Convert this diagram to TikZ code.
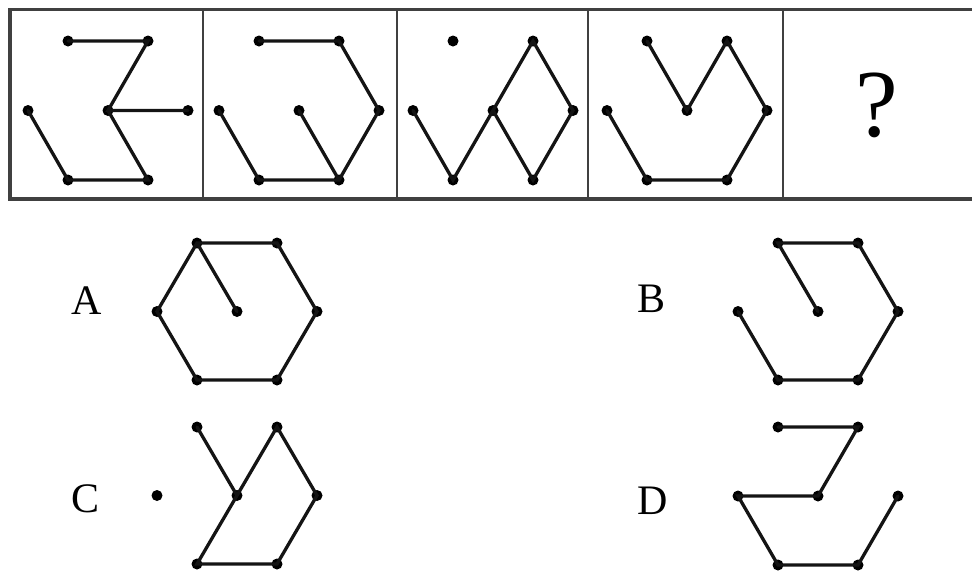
\documentclass[tikz,border=0pt]{standalone}
\usepackage{fontspec}
\setmainfont{Liberation Serif}
\begin{document}
\begin{tikzpicture}[x=1pt,y=-1pt,
  dot/.style={circle,fill=black,inner sep=0pt,minimum size=11pt},
  seg/.style={line width=3.3pt,black!92,line cap=round},
  frame/.style={line width=3.6pt,black!75},
  divider/.style={line width=2.8pt,black!75},
  lab/.style={inner sep=0pt,font=\fontsize{42}{42}\selectfont}]
\useasboundingbox (0,0) rectangle (972,571);
\newcommand\hexpts[4]{%
  \node[dot] (#1tl) at (#2-40,#3-#4) {};
  \node[dot] (#1tr) at (#2+40,#3-#4) {};
  \node[dot] (#1l)  at (#2-80,#3) {};
  \node[dot] (#1c)  at (#2,#3) {};
  \node[dot] (#1r)  at (#2+80,#3) {};
  \node[dot] (#1bl) at (#2-40,#3+#4) {};
  \node[dot] (#1br) at (#2+40,#3+#4) {};}
% frame
\draw[frame] (975,9.5) -- (10,9.5) -- (10,199) -- (975,199);
\foreach \xx in {203,397,588,783} \draw[divider] (\xx,9.5) -- (\xx,199);
% panel 1
\hexpts{a}{108}{110.5}{69.5}
\draw[seg] (atl.center) -- (atr.center) -- (ac.center) -- (ar.center);
\draw[seg] (ac.center) -- (abr.center) -- (abl.center) -- (al.center);
% panel 2
\hexpts{b}{299}{110.5}{69.5}
\draw[seg] (btl.center) -- (btr.center) -- (br.center) -- (bbr.center) -- (bbl.center) -- (bl.center);
\draw[seg] (bc.center) -- (bbr.center);
% panel 3
\node[dot] (ctl) at (453,41) {};
\node[dot] (ctr) at (533,41) {};
\node[dot] (cl)  at (413,110.5) {};
\node[dot] (cc)  at (493,110.5) {};
\node[dot] (cr)  at (573,110.5) {};
\node[dot] (cbl) at (453,180) {};
\node[dot] (cbr) at (533,180) {};
\draw[seg] (cl.center) -- (cbl.center) -- (cc.center) -- (ctr.center) -- (cr.center) -- (cbr.center) -- (cc.center);
% panel 4
\hexpts{d}{687}{110.5}{69.5}
\draw[seg] (dtl.center) -- (dc.center) -- (dtr.center) -- (dr.center) -- (dbr.center) -- (dbl.center) -- (dl.center);
% question mark
\node[inner sep=0pt,font=\fontsize{96}{96}\selectfont] (q) at (877,105) {?};
% option A
\node[lab] (la) at (87,301) {A};
\hexpts{oa}{237}{311.5}{68.5}
\draw[seg] (oatl.center) -- (oatr.center) -- (oar.center) -- (oabr.center) -- (oabl.center) -- (oal.center) -- cycle;
\draw[seg] (oatl.center) -- (oac.center);
% option B
\node[lab] (lb) at (651,299) {B};
\hexpts{ob}{818}{311.5}{68.5}
\draw[seg] (obc.center) -- (obtl.center) -- (obtr.center) -- (obr.center) -- (obbr.center) -- (obbl.center) -- (obl.center);
% option C
\node[lab] (lc) at (86,499) {C};
\hexpts{oc}{237}{495.5}{68.5}
\draw[seg] (octl.center) -- (occ.center) -- (octr.center) -- (ocr.center) -- (ocbr.center) -- (ocbl.center) -- (occ.center);
% option D
\node[lab] (ld) at (653,501) {D};
\hexpts{od}{818}{496}{69}
\draw[seg] (odtl.center) -- (odtr.center) -- (odc.center) -- (odl.center) -- (odbl.center) -- (odbr.center) -- (odr.center);
\end{tikzpicture}
\end{document}
